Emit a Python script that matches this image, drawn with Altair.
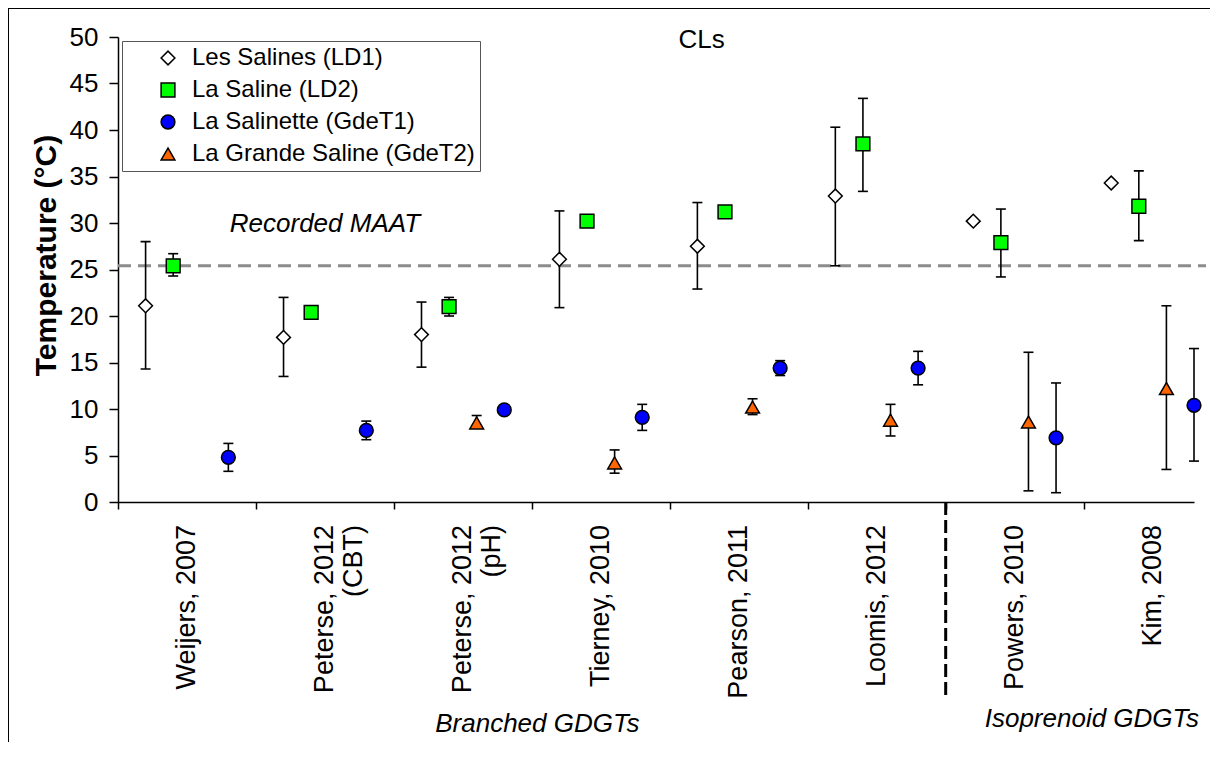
import altair as alt
import pandas as pd

# ---------------- data ----------------
studies = ["Weijers, 2007", "Peterse, 2012\n(CBT)", "Peterse, 2012\n(pH)", "Tierney, 2010",
           "Pearson, 2011", "Loomis, 2012", "Powers, 2010", "Kim, 2008"]
series_names = ["Les Salines (LD1)", "La Saline (LD2)", "La Salinette (GdeT1)",
                "La Grande Saline (GdeT2)"]

ld1_val = [21.1, 17.7, 18.0, 26.1, 27.5, 32.9, 30.2, 34.3]
ld1_lo = [14.3, 13.5, 14.5, 20.9, 22.9, 25.4, None, None]
ld1_hi = [28.0, 22.0, 21.5, 31.3, 32.2, 40.3, None, None]

ld2_val = [25.4, 20.4, 21.0, 30.2, 31.2, 38.5, 27.9, 31.8]
ld2_lo = [24.3, None, 20.0, None, None, 33.4, 24.2, 28.1]
ld2_hi = [26.7, None, 22.0, None, None, 43.4, 31.5, 35.6]

gdet1_val = [4.8, 7.7, 9.9, 9.1, 14.4, 14.4, 6.9, 10.4]
gdet1_lo = [3.3, 6.7, None, 7.7, 13.6, 12.6, 1.0, 4.4]
gdet1_hi = [6.3, 8.7, None, 10.5, 15.2, 16.2, 12.8, 16.5]

gdet2_val = [None, None, 8.5, 4.2, 10.2, 8.8, 8.6, 12.2]
gdet2_lo = [None, None, 8.0, 3.1, 9.4, 7.1, 1.2, 3.5]
gdet2_hi = [None, None, 9.3, 5.6, 11.1, 10.5, 16.1, 21.1]

recorded_maat = 25.4

# ---------------- styling ----------------
fills = ["white", "#00ff00", "#0000ff", "#ff6600"]
shapes = ["diamond", "square", "circle", "triangle-up"]
outlines = ["black", "black", "black", "black"]
SYM = 190
# dodge slot of each series inside its study group (fraction of group width)
slot = {series_names[0]: 0.2, series_names[1]: 0.4,
        series_names[3]: 0.6, series_names[2]: 0.8}
FONT = "Liberation Sans"
W, H = 1076, 465

vals = [ld1_val, ld2_val, gdet1_val, gdet2_val]
los = [ld1_lo, ld2_lo, gdet1_lo, gdet2_lo]
his = [ld1_hi, ld2_hi, gdet1_hi, gdet2_hi]

rows = []
for s, name in enumerate(series_names):
    for i, st in enumerate(studies):
        if vals[s][i] is None:
            continue
        rows.append({"series": name, "study": st, "x": i + slot[name],
                     "val": vals[s][i], "lo": los[s][i], "hi": his[s][i]})
pts = pd.DataFrame(rows)
err = pts.dropna(subset=["lo", "hi"]).copy()
caps = pd.concat([err.assign(cap=err["lo"]), err.assign(cap=err["hi"])])
lab = pd.DataFrame({"label": studies, "x": [i + 0.5 for i in range(len(studies))]})
one = pd.DataFrame({"a": [0]})

xsc = alt.Scale(domain=[0, 7.8], nice=False, zero=False)
ysc = alt.Scale(domain=[0, 50], nice=False, zero=False)
xaxis = alt.Axis(values=list(range(8)), labels=False, title=None, grid=False, tickSize=7)
yaxis = alt.Axis(values=list(range(0, 51, 5)), title="Temperature (°C)", grid=False,
                 tickSize=9, labelPadding=11, titleFontWeight="bold", titlePadding=8,
                 titleFontSize=30, titleY=218)

def X(field):
    return alt.X(field, type="quantitative", scale=xsc, axis=xaxis)

def Y(field):
    return alt.Y(field, type="quantitative", scale=ysc, axis=yaxis)

legend = alt.Legend(title=None, orient="top-left", offset=4,
                    padding=5, symbolOffset=29, labelOffset=12,
                    rowPadding=8, labelFontSize=24, labelFont=FONT,
                    labelColor="black", labelLimit=500,
                    strokeColor="#555555", fillColor="white",
                    symbolSize=SYM, symbolStrokeWidth=1.5)

maat = alt.Chart(pd.DataFrame({"y": [recorded_maat]})).mark_rule(
    color="#8c8c8c", strokeWidth=3, strokeDash=[13, 7], clip=False
).encode(x=alt.value(0), x2=alt.value(W + 12), y=Y("y"))

bars = alt.Chart(err).mark_rule(color="black", strokeWidth=1.6).encode(
    x=X("x"), y=Y("lo"), y2="hi")

capm = alt.Chart(caps).mark_tick(color="black", orient="horizontal", size=10,
                                 thickness=1.6, opacity=1).encode(x=X("x"), y=Y("cap"))

points = alt.Chart(pts).mark_point(filled=True, strokeWidth=1.5,
                                   opacity=1, fillOpacity=1, size=SYM).encode(
    x=X("x"), y=Y("val"),
    fill=alt.Fill("series:N", scale=alt.Scale(domain=series_names, range=fills),
                  legend=legend),
    shape=alt.Shape("series:N", scale=alt.Scale(domain=series_names, range=shapes),
                    legend=legend),
    stroke=alt.Stroke("series:N", scale=alt.Scale(domain=series_names, range=outlines),
                      legend=legend),
)

xlabels = alt.Chart(lab).mark_text(angle=270, align="right", baseline="middle",
                                   lineBreak="\n", fontSize=27, font=FONT, color="black",
                                   lineHeight=29).encode(
    x=X("x"), y=alt.value(488), text="label:N")

def note(txt, x, y, italic=True, size=26, pix=False):
    enc = dict(x=alt.datum(x), text=alt.value(txt))
    enc["y"] = alt.value(y) if pix else alt.datum(y)
    return alt.Chart(one).mark_text(font=FONT, fontSize=size, color="black",
                                    fontStyle="italic" if italic else "normal",
                                    align="center", baseline="alphabetic").encode(**enc)

n1 = note("Recorded MAAT", 1.5, 29.0)
n2 = note("CLs", 4.23, 11, italic=False, pix=True)
n3 = note("Branched GDGTs", 3.04, 695, pix=True)
n4 = note("Isoprenoid GDGTs", 7.06, 690, pix=True)

sep = alt.Chart(one).mark_rule(color="black", strokeWidth=3, strokeDash=[13, 5]).encode(
    x=alt.datum(6), y=alt.value(H), y2=alt.value(H + 195))

frame_top = alt.Chart(one).mark_rule(color="black", strokeWidth=2).encode(
    x=alt.value(-110), x2=alt.value(W + 200), y=alt.value(-29))
frame_left = alt.Chart(one).mark_rule(color="black", strokeWidth=2).encode(
    x=alt.value(-110), y=alt.value(-29), y2=alt.value(H + 400))

chart = alt.layer(frame_top, frame_left, maat, bars, capm, points, xlabels,
                  n1, n2, n3, n4, sep).properties(
    width=W, height=H,
    autosize=alt.AutoSizeParams(type="none"),
    padding={"left": 110, "top": 29, "right": 16, "bottom": 240},
).configure_axis(
    labelFont=FONT, labelFontSize=26, labelColor="black", titleFont=FONT,
    titleFontSize=24, titleColor="black", tickColor="black", domainColor="black",
    domainWidth=1.5, tickWidth=1.5,
).configure_view(strokeWidth=0)

chart.save("out.html", embed_options={"renderer": "svg", "actions": False})
